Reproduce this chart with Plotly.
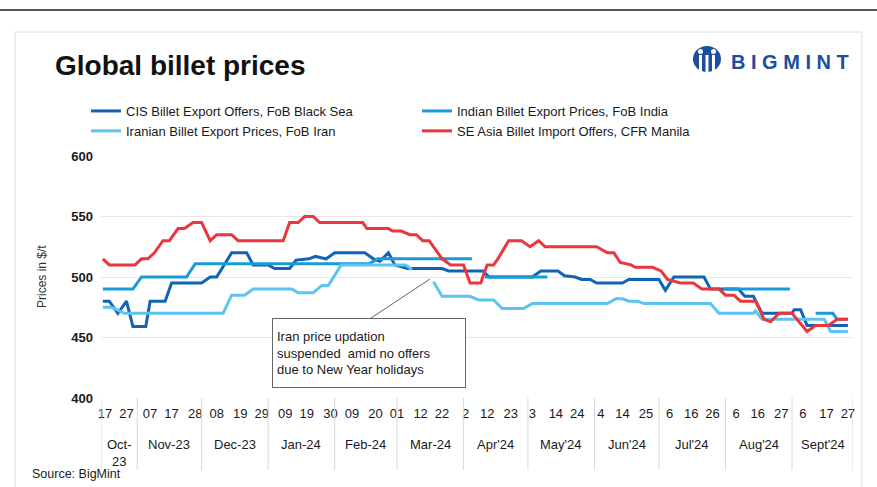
import plotly.graph_objects as go
import pandas as pd

# ---------------- data ----------------
cis_dates = ["2023-10-16", "2023-10-19", "2023-10-23", "2023-10-27", "2023-10-30", "2023-11-05",
             "2023-11-07", "2023-11-14", "2023-11-17", "2023-12-01", "2023-12-05", "2023-12-08",
             "2023-12-15", "2023-12-22", "2023-12-25", "2024-01-01", "2024-01-04", "2024-01-11",
             "2024-01-14", "2024-01-20", "2024-01-23", "2024-01-28", "2024-02-01", "2024-02-15",
             "2024-02-19", "2024-02-22", "2024-02-26", "2024-02-29", "2024-03-06", "2024-03-22",
             "2024-03-25", "2024-04-10", "2024-04-13", "2024-05-03", "2024-05-07", "2024-05-15",
             "2024-05-18", "2024-05-23", "2024-05-26", "2024-05-30", "2024-06-02", "2024-06-14",
             "2024-06-17", "2024-07-01", "2024-07-04", "2024-07-08", "2024-07-22", "2024-07-25",
             "2024-08-07", "2024-08-10", "2024-08-14", "2024-08-18", "2024-09-01", "2024-09-02",
             "2024-09-05", "2024-09-08", "2024-09-27"]
cis_vals = [480, 480, 470, 480, 459, 459,
            480, 480, 495, 495, 500, 500,
            520, 520, 510, 510, 507, 507,
            514, 515, 517, 515, 520, 520,
            515, 513, 520, 510, 507, 507,
            505, 505, 500, 500, 505, 505,
            501, 500, 498, 498, 495, 495,
            498, 498, 489, 500, 500, 490,
            490, 484, 484, 470, 470, 473,
            473, 460, 460]

india_dates = ["2023-10-16", "2023-10-30", "2023-11-03", "2023-11-24", "2023-11-28", "2024-02-17",
               "2024-02-21", "2024-04-05", "2024-04-08", "2024-04-11", "2024-05-10", "2024-05-20",
               "2024-07-31", "2024-08-31", "2024-09-05", "2024-09-12", "2024-09-20", "2024-09-22",
               "2024-09-27"]
india_vals = [490, 490, 500, 500, 511, 511,
              515, 515, None, 500, 500, None,
              490, 490, None, 470, 470, 465,
              465]

iran_dates = ["2023-10-16", "2023-10-20", "2023-10-26", "2023-12-11", "2023-12-15", "2023-12-21",
              "2023-12-25", "2024-01-12", "2024-01-15", "2024-01-22", "2024-01-26", "2024-01-29",
              "2024-02-04", "2024-03-05", "2024-03-08", "2024-03-12", "2024-03-18", "2024-03-22",
              "2024-04-04", "2024-04-08", "2024-04-15", "2024-04-19", "2024-04-29", "2024-05-03",
              "2024-06-07", "2024-06-11", "2024-06-14", "2024-06-17", "2024-06-21", "2024-06-24",
              "2024-07-25", "2024-07-29", "2024-08-14", "2024-08-15", "2024-08-18", "2024-09-16",
              "2024-09-19", "2024-09-27"]
iran_vals = [475, 475, 470, 470, 485, 485,
             490, 490, 487, 487, 493, 493,
             510, 510, 506, None, 496, 484,
             484, 481, 481, 474, 474, 478,
             478, 482, 482, 480, 480, 478,
             478, 470, 470, 472, 465, 465,
             455, 455]

sea_dates = ["2023-10-16", "2023-10-19", "2023-10-31", "2023-11-03", "2023-11-06", "2023-11-09",
             "2023-11-13", "2023-11-16", "2023-11-20", "2023-11-23", "2023-11-27", "2023-12-01",
             "2023-12-05", "2023-12-08", "2023-12-15", "2023-12-18", "2024-01-08", "2024-01-11",
             "2024-01-15", "2024-01-18", "2024-01-22", "2024-01-25", "2024-02-14", "2024-02-16",
             "2024-02-26", "2024-02-28", "2024-03-03", "2024-03-07", "2024-03-10", "2024-03-13",
             "2024-03-16", "2024-03-19", "2024-03-22", "2024-03-26", "2024-04-01", "2024-04-04",
             "2024-04-09", "2024-04-12", "2024-04-15", "2024-04-17", "2024-04-22", "2024-04-28",
             "2024-05-02", "2024-05-06", "2024-05-09", "2024-06-02", "2024-06-07", "2024-06-10",
             "2024-06-13", "2024-06-18", "2024-06-20", "2024-06-28", "2024-07-02", "2024-07-05",
             "2024-07-11", "2024-07-17", "2024-07-21", "2024-07-29", "2024-08-01", "2024-08-05",
             "2024-08-08", "2024-08-15", "2024-08-19", "2024-08-22", "2024-08-26", "2024-09-01",
             "2024-09-06", "2024-09-08", "2024-09-12", "2024-09-18", "2024-09-22", "2024-09-27"]
sea_vals = [515, 510, 510, 515, 515, 520,
            530, 530, 540, 540, 545, 545,
            530, 535, 535, 530, 530, 545,
            545, 550, 550, 545, 545, 540,
            540, 538, 538, 535, 535, 530,
            530, 522, 515, 510, 510, 495,
            495, 510, 510, 515, 530, 530,
            525, 530, 525, 525, 520, 520,
            512, 510, 508, 508, 505, 498,
            495, 495, 490, 490, 485, 485,
            480, 480, 465, 463, 470, 470,
            459, 455, 460, 460, 465, 465]

series_names = ["CIS Billet Export Offers, FoB Black Sea",
                "Indian Billet Export Prices, FoB India",
                "Iranian Billet Export Prices, FoB Iran",
                "SE Asia Billet Import Offers, CFR Manila"]
series_colors = ["#1164B4", "#179CD8", "#5CC4F0", "#EA363C"]

tick_dates = ["2023-10-17", "2023-10-27", "2023-11-07", "2023-11-17", "2023-11-28",
              "2023-12-08", "2023-12-19", "2023-12-29", "2024-01-09", "2024-01-19", "2024-01-30",
              "2024-02-09", "2024-02-20", "2024-03-01", "2024-03-12", "2024-03-22",
              "2024-04-02", "2024-04-12", "2024-04-23", "2024-05-03", "2024-05-14", "2024-05-24",
              "2024-06-04", "2024-06-14", "2024-06-25", "2024-07-06", "2024-07-16", "2024-07-26",
              "2024-08-06", "2024-08-16", "2024-08-27", "2024-09-06", "2024-09-17", "2024-09-27"]
tick_text = ["17", "27", "07", "17", "28", "08", "19", "29", "09", "19", "30", "09", "20",
             "01", "12", "22", "2", "12", "23", "3", "14", "24", "4", "14", "25",
             "6", "16", "26", "6", "16", "27", "6", "17", "27"]

month_starts = ["2023-10-01", "2023-11-01", "2023-12-01", "2024-01-01", "2024-02-01", "2024-03-01",
                "2024-04-01", "2024-05-01", "2024-06-01", "2024-07-01", "2024-08-01", "2024-09-01"]
month_labels = ["Oct-<br>23", "Nov-23", "Dec-23", "Jan-24", "Feb-24", "Mar-24",
                "Apr'24", "May'24", "Jun'24", "Jul'24", "Aug'24", "Sept'24"]

y_ticks = [400, 450, 500, 550, 600]

# ---------------- layout helpers ----------------
W, H = 877, 487
ML, MR, MT, MB = 101, 24, 156, 89
PW = W - ML - MR
PH = H - MT - MB
FONT = "Liberation Sans, Arial, sans-serif"
TXT = "#1a1a1a"
X_RANGE = [pd.Timestamp("2023-10-15 03:15"), pd.Timestamp("2024-09-29 09:30")]


def px(xp):
    return (xp - ML) / PW


def py(yp):
    return (H - MB - yp) / PH


fig = go.Figure()
all_series = [(cis_dates, cis_vals), (india_dates, india_vals),
              (iran_dates, iran_vals), (sea_dates, sea_vals)]
for (d, v), name, col in zip(all_series, series_names, series_colors):
    fig.add_trace(go.Scatter(x=pd.to_datetime(d), y=v, mode="lines", name=name,
                             line=dict(color=col, width=3), connectgaps=False,
                             hoverinfo="skip"))

shapes = []
annotations = []

# month dividers and labels
bounds = [X_RANGE[0]] + [pd.Timestamp(m) for m in month_starts[1:]] + [X_RANGE[1]]
for b in bounds:
    shapes.append(dict(type="line", xref="x", yref="paper", x0=b, x1=b, y0=0, y1=py(470),
                       line=dict(color="#d9d9d9", width=1)))
for i, lab in enumerate(month_labels):
    mid = bounds[i] + (bounds[i + 1] - bounds[i]) / 2
    annotations.append(dict(x=mid, xref="x", y=py(435), yref="paper", text=lab,
                            showarrow=False, yanchor="top", xanchor="center",
                            font=dict(family=FONT, size=13, color=TXT)))

# header line and card
shapes.append(dict(type="line", xref="paper", yref="paper", x0=px(0), x1=px(W), y0=py(10), y1=py(10),
                   line=dict(color="#555555", width=2)))
shapes.append(dict(type="rect", xref="paper", yref="paper", x0=px(15), x1=px(862), y0=py(500), y1=py(32),
                   line=dict(color="#dcdcdc", width=1), fillcolor="rgba(0,0,0,0)", layer="below"))

# logo icon
LOGO = "#1B4F9E"
shapes.append(dict(type="circle", xref="paper", yref="paper", x0=px(693), x1=px(721), y0=py(72), y1=py(46),
                   fillcolor=LOGO, line=dict(width=0)))
for xa, xb in [(699, 702), (705.5, 708.5), (712, 715)]:
    shapes.append(dict(type="rect", xref="paper", yref="paper", x0=px(xa), x1=px(xb), y0=py(74), y1=py(55),
                       fillcolor="white", line=dict(width=0)))
for xc in [700.5, 713.5]:
    shapes.append(dict(type="circle", xref="paper", yref="paper", x0=px(xc - 2.5), x1=px(xc + 2.5),
                       y0=py(54), y1=py(49), fillcolor="white", line=dict(width=0)))
annotations.append(dict(x=px(729), y=py(62), xref="paper", yref="paper", text="<b>B I G M I N T</b>",
                        showarrow=False, xanchor="left", yanchor="middle",
                        font=dict(family=FONT, size=20, color=LOGO)))

# title
annotations.append(dict(x=px(53), y=py(66), xref="paper", yref="paper", text="<b>Global billet prices</b>",
                        showarrow=False, xanchor="left", yanchor="middle",
                        font=dict(family=FONT, size=28, color="#111111")))

# y-axis title
annotations.append(dict(x=px(42), y=py(277), xref="paper", yref="paper", text="Prices in $/t",
                        showarrow=False, textangle=-90, xanchor="center", yanchor="middle",
                        font=dict(family=FONT, size=12, color="#333333")))

# source
annotations.append(dict(x=px(30), y=py(474), xref="paper", yref="paper", text="Source: BigMint",
                        showarrow=False, xanchor="left", yanchor="middle",
                        font=dict(family=FONT, size=12.5, color=TXT)))

# note box
annotations.append(dict(x=px(272), y=py(318), xref="paper", yref="paper",
                        text="Iran price updation<br>suspended\u00a0 amid no offers<br>due to New Year holidays",
                        showarrow=False, xanchor="left", yanchor="top", align="left", valign="middle",
                        width=184, height=60, borderpad=4, borderwidth=1, bordercolor="#666666",
                        bgcolor="white", font=dict(family=FONT, size=13, color=TXT)))
shapes.append(dict(type="line", xref="paper", yref="paper", x0=px(368), y0=py(320), x1=px(430), y1=py(279),
                   line=dict(color="#666666", width=1)))

fig.update_layout(
    width=W, height=H,
    margin=dict(l=ML, r=MR, t=MT, b=MB, autoexpand=False),
    paper_bgcolor="white", plot_bgcolor="white",
    font=dict(family=FONT, size=13, color=TXT),
    showlegend=True,
    legend=dict(orientation="h", x=px(86), xanchor="left", y=py(96), yanchor="top",
                entrywidth=286, entrywidthmode="pixels", itemwidth=30,
                font=dict(family=FONT, size=13, color=TXT), bgcolor="rgba(0,0,0,0)",
                traceorder="normal"),
    shapes=shapes, annotations=annotations,
    xaxis=dict(type="date", range=X_RANGE, tickmode="array", tickvals=pd.to_datetime(tick_dates),
               ticktext=tick_text, ticks="", showgrid=False, zeroline=False, showline=False,
               tickfont=dict(family=FONT, size=13, color=TXT), tickangle=0, ticklabelstandoff=6),
    yaxis=dict(range=[400, 600], tickvals=y_ticks,
               ticktext=["<b>%d</b>" % v for v in y_ticks],
               showgrid=True, gridcolor="#e6e6e6", gridwidth=1, zeroline=False, showline=False,
               ticks="", ticklabelstandoff=7, tickfont=dict(family=FONT, size=13, color=TXT)),
)

fig.write_html("out.html", config={"displayModeBar": False})

# remove the browser's default page margin so the figure sits at the window origin
with open("out.html", "r", encoding="utf-8") as f:
    html = f.read()
html = html.replace("<head>", "<head><style>html,body{margin:0;padding:0;overflow:hidden;}</style>", 1)
with open("out.html", "w", encoding="utf-8") as f:
    f.write(html)
